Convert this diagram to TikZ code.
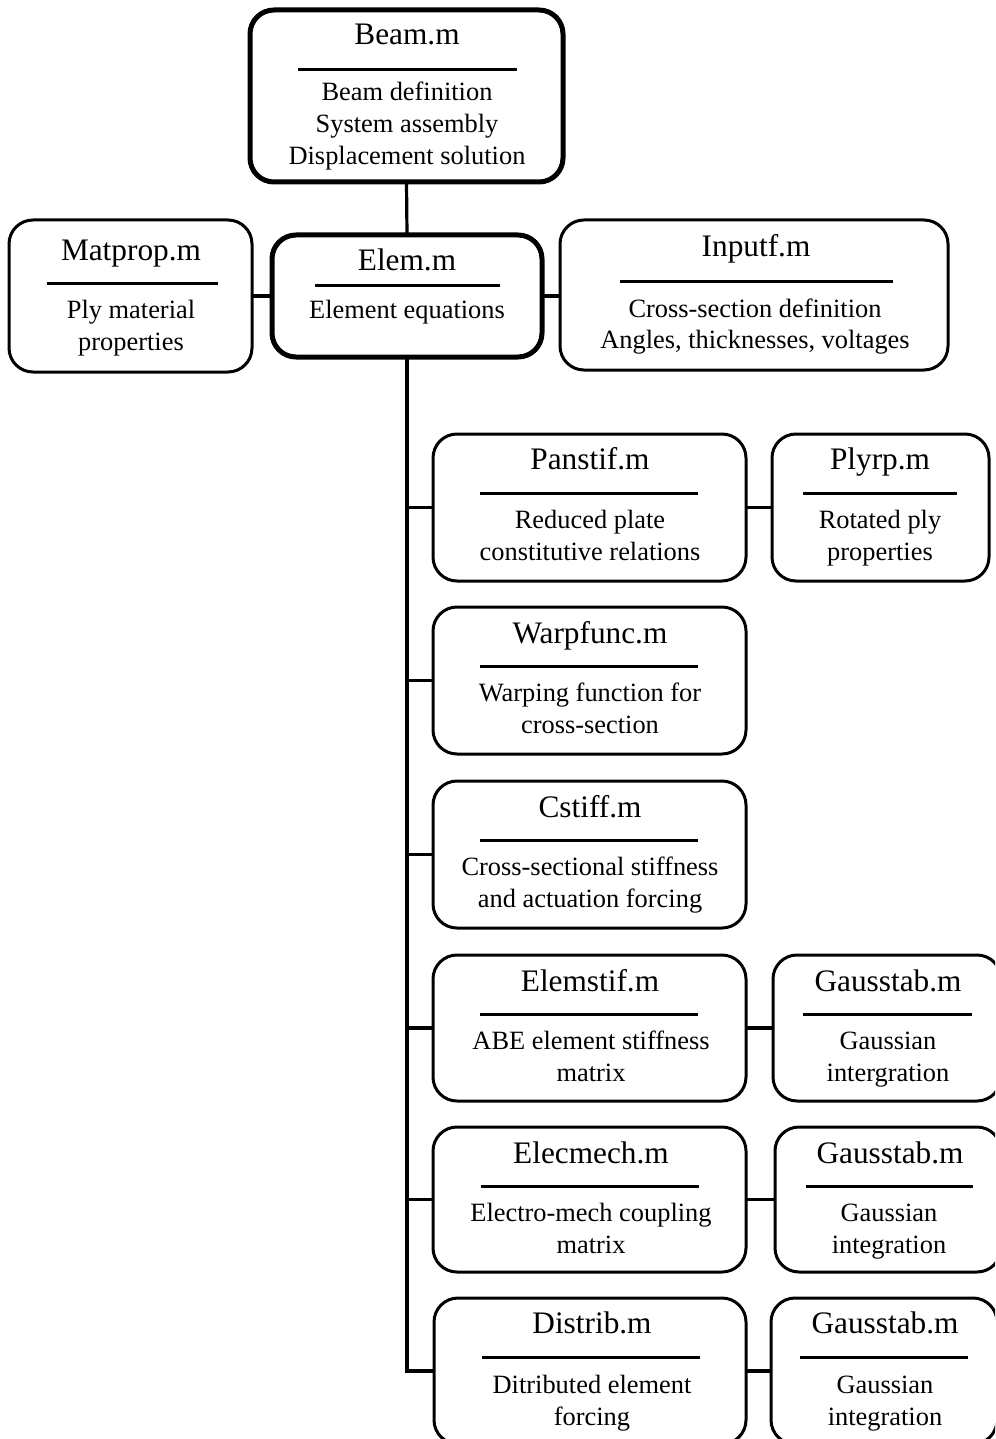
\documentclass[tikz,border=0pt]{standalone}
\usepackage{fontspec}
\setmainfont{Liberation Serif}
\begin{document}
\begin{tikzpicture}[x=1pt,y=-1pt,
  box/.style={draw, rounded corners=24pt, line width=3pt, inner sep=0pt, outer sep=0pt},
  mainbox/.style={box, line width=5pt},
  ttl/.style={anchor=base, inner sep=0pt, font=\fontsize{31.3}{36}\selectfont},
  bdy/.style={anchor=base, inner sep=0pt, font=\fontsize{26.4}{32}\selectfont},
  rl/.style={line width=3pt},
  conn/.style={line width=3.2pt}]
\clip (0,0) rectangle (995,1439);
\fill[white] (0,0) rectangle (995,1439);

% Beam.m
\node[mainbox, minimum width=313pt, minimum height=172pt] (beam) at (406.5,96) {};
\node[ttl] (beamt) at (407,45) {Beam.m};
\draw[rl] (298,70) -- (517,70);
\node[bdy] (beamb1) at (407,101) {Beam definition};
\node[bdy] (beamb2) at (407,133) {System assembly};
\node[bdy] (beamb3) at (407,165) {Displacement solution};

% Elem.m
\node[mainbox, minimum width=270pt, minimum height=122pt] (elem) at (407,296) {};
\node[ttl] (elemt) at (407,270) {Elem.m};
\draw[rl] (315,285) -- (500,285);
\node[bdy] (elemb1) at (407,318) {Element equations};

% Matprop.m
\node[box, minimum width=243pt, minimum height=152pt] (matprop) at (130.5,296) {};
\node[ttl] (matpropt) at (131,260) {Matprop.m};
\draw[rl] (47,283) -- (218,283);
\node[bdy] (matpropb1) at (131,318) {Ply material};
\node[bdy] (matpropb2) at (131,350) {properties};

% Inputf.m
\node[box, minimum width=388pt, minimum height=150pt] (inputf) at (754,295) {};
\node[ttl] (inputft) at (756,257) {Inputf.m};
\draw[rl] (620,281) -- (893,281);
\node[bdy] (inputfb1) at (755,317) {Cross-section definition};
\node[bdy] (inputfb2) at (755,348) {Angles, thicknesses, voltages};

% Panstif.m
\node[box, minimum width=313pt, minimum height=147pt] (panstif) at (589.5,507.5) {};
\node[ttl] (panstift) at (590,469) {Panstif.m};
\draw[rl] (480,493) -- (698,493);
\node[bdy] (panstifb1) at (590,528) {Reduced plate};
\node[bdy] (panstifb2) at (590,560) {constitutive relations};

% Plyrp.m
\node[box, minimum width=217pt, minimum height=147pt] (plyrp) at (880.5,507.5) {};
\node[ttl] (plyrpt) at (880,469) {Plyrp.m};
\draw[rl] (803,493) -- (957,493);
\node[bdy] (plyrpb1) at (880,528) {Rotated ply};
\node[bdy] (plyrpb2) at (880,560) {properties};

% Warpfunc.m
\node[box, minimum width=313pt, minimum height=147pt] (warpfunc) at (589.5,680.5) {};
\node[ttl] (warpfunct) at (590,643) {Warpfunc.m};
\draw[rl] (480,666) -- (698,666);
\node[bdy] (warpfuncb1) at (590,701) {Warping function for};
\node[bdy] (warpfuncb2) at (590,733) {cross-section};

% Cstiff.m
\node[box, minimum width=313pt, minimum height=147pt] (cstiff) at (589.5,854.5) {};
\node[ttl] (cstifft) at (590,817) {Cstiff.m};
\draw[rl] (480,840) -- (698,840);
\node[bdy] (cstiffb1) at (590,875) {Cross-sectional stiffness};
\node[bdy] (cstiffb2) at (590,907) {and actuation forcing};

% Elemstif.m
\node[box, minimum width=313pt, minimum height=146pt] (elemstif) at (589.5,1028) {};
\node[ttl] (elemstift) at (590,991) {Elemstif.m};
\draw[rl] (480,1014) -- (698,1014);
\node[bdy] (elemstifb1) at (591,1049) {ABE element stiffness};
\node[bdy] (elemstifb2) at (591,1081) {matrix};

% Gausstab.m (1)
\node[box, minimum width=228pt, minimum height=146pt] (gaussa) at (887,1028) {};
\node[ttl] (gaussat) at (888,991) {Gausstab.m};
\draw[rl] (803,1014) -- (972,1014);
\node[bdy] (gaussab1) at (888,1049) {Gaussian};
\node[bdy] (gaussab2) at (888,1081) {intergration};

% Elecmech.m
\node[box, minimum width=313pt, minimum height=145pt] (elecmech) at (589.5,1199.5) {};
\node[ttl] (elecmecht) at (591,1163) {Elecmech.m};
\draw[rl] (481,1186) -- (699,1186);
\node[bdy] (elecmechb1) at (591,1221) {Electro-mech coupling};
\node[bdy] (elecmechb2) at (591,1253) {matrix};

% Gausstab.m (2)
\node[box, minimum width=226pt, minimum height=145pt] (gaussb) at (888,1199.5) {};
\node[ttl] (gaussbt) at (890,1163) {Gausstab.m};
\draw[rl] (806,1186) -- (973,1186);
\node[bdy] (gaussbb1) at (889,1221) {Gaussian};
\node[bdy] (gaussbb2) at (889,1253) {integration};

% Distrib.m
\node[box, minimum width=312pt, minimum height=146pt] (distrib) at (590,1371) {};
\node[ttl] (distribt) at (592,1333) {Distrib.m};
\draw[rl] (482,1357) -- (700,1357);
\node[bdy] (distribb1) at (592,1393) {Ditributed element};
\node[bdy] (distribb2) at (592,1425) {forcing};

% Gausstab.m (3)
\node[box, minimum width=226pt, minimum height=146pt] (gaussc) at (884,1371) {};
\node[ttl] (gaussct) at (885,1333) {Gausstab.m};
\draw[rl] (800,1357) -- (968,1357);
\node[bdy] (gausscb1) at (885,1393) {Gaussian};
\node[bdy] (gausscb2) at (885,1425) {integration};

% connectors
\draw[conn] (beam.south) -- (elem.north);
\draw[conn] (matprop.east) -- (elem.west);
\draw[conn] (elem.east) -- (inputf.west |- elem.east);
\draw[conn] (elem.south) |- (distrib.west);
\draw[conn] (elem.south |- panstif.west) -- (panstif.west);
\draw[conn] (elem.south |- warpfunc.west) -- (warpfunc.west);
\draw[conn] (elem.south |- cstiff.west) -- (cstiff.west);
\draw[conn] (elem.south |- elemstif.west) -- (elemstif.west);
\draw[conn] (elem.south |- elecmech.west) -- (elecmech.west);
\draw[conn] (panstif.east) -- (plyrp.west);
\draw[conn] (elemstif.east) -- (gaussa.west);
\draw[conn] (elecmech.east) -- (gaussb.west);
\draw[conn] (distrib.east) -- (gaussc.west);
\end{tikzpicture}
\end{document}
